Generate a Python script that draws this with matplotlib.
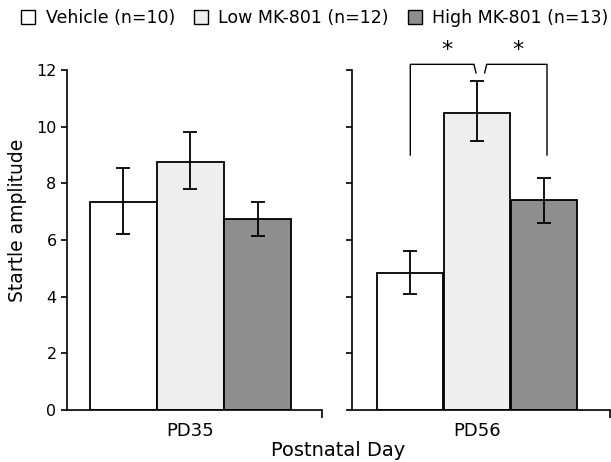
import matplotlib
matplotlib.use("Agg")
import matplotlib.pyplot as plt
from matplotlib.patches import Patch
import numpy as np

groups = ["Vehicle (n=10)", "Low MK-801 (n=12)", "High MK-801 (n=13)"]
days = ["PD35", "PD56"]
means_pd35 = [7.35, 8.75, 6.75]
err_lo_pd35 = [1.15, 0.95, 0.6]
err_hi_pd35 = [1.2, 1.05, 0.6]
means_pd56 = [4.85, 10.5, 7.4]
err_lo_pd56 = [0.75, 1.0, 0.8]
err_hi_pd56 = [0.75, 1.1, 0.8]
colors = ["white", "#eeeeee", "#8e8e8e"]
yticks = [0, 2, 4, 6, 8, 10, 12]

plt.rcParams['font.family'] = ['DejaVu Sans']
fig = plt.figure(figsize=(6.11, 4.62), dpi=100)
ax1 = fig.add_axes([67/611, 1-410/462, 255/611, 340/462])
ax2 = fig.add_axes([352/611, 1-410/462, 258/611, 340/462])

x = np.arange(3)
for ax, m, lo, hi, day, xl in [(ax1, means_pd35, err_lo_pd35, err_hi_pd35, days[0], (-0.84, 2.96)),
                                (ax2, means_pd56, err_lo_pd56, err_hi_pd56, days[1], (-0.87, 2.98))]:
    ax.bar(x, m, width=0.99, color=colors, edgecolor="black", linewidth=1.3, zorder=2)
    ax.errorbar(x, m, yerr=[lo, hi], fmt="none", ecolor="black", elinewidth=1.3,
                capsize=5, capthick=1.3, zorder=3)
    ax.set_xlim(*xl)
    ax.set_ylim(0, 12)
    ax.set_yticks(yticks)
    ax.spines["top"].set_visible(False)
    ax.spines["right"].set_visible(False)
    ax.spines["left"].set_linewidth(1.2)
    ax.spines["bottom"].set_linewidth(1.2)
    ax.set_xticks([1])
    ax.set_xticklabels([day], fontsize=13)
    ax.tick_params(axis="x", length=0, pad=9)
    ax.set_xticks([xl[1]], minor=True)
    ax.tick_params(axis="x", which="minor", length=6, width=1.2, direction="out")
    ax.tick_params(axis="y", length=4, width=1.2, labelsize=11.5)

ax1.set_ylabel("Startle amplitude", fontsize=13.5)
ax1.yaxis.set_label_coords((27 - 67) / 255, (410 - 220) / 340)
ax2.set_yticklabels([])

# significance brackets
kw = dict(color="black", lw=1.0, clip_on=False)
ax2.plot([0, 0, 0.95, 0.98], [9.0, 12.2, 12.2, 11.9], **kw)
ax2.plot([1.11, 1.14, 2.04, 2.04], [11.9, 12.2, 12.2, 9.0], **kw)
ax2.text(0.55, 12.7, "*", ha="center", va="center", fontsize=16, clip_on=False)
ax2.text(1.6, 12.7, "*", ha="center", va="center", fontsize=16, clip_on=False)

fig.text(338/611, 1-450/462, "Postnatal Day", ha="center", va="center", fontsize=14)

handles = [Patch(facecolor=c, edgecolor="black", linewidth=1.0) for c in colors]
fig.legend(handles, groups, loc="center", bbox_to_anchor=(315/611, 1-18/462), ncol=3,
           frameon=False, fontsize=12.5, handlelength=0.8, handleheight=0.8,
           handletextpad=0.6, columnspacing=1.1)

fig.savefig("out.png", dpi=100)
